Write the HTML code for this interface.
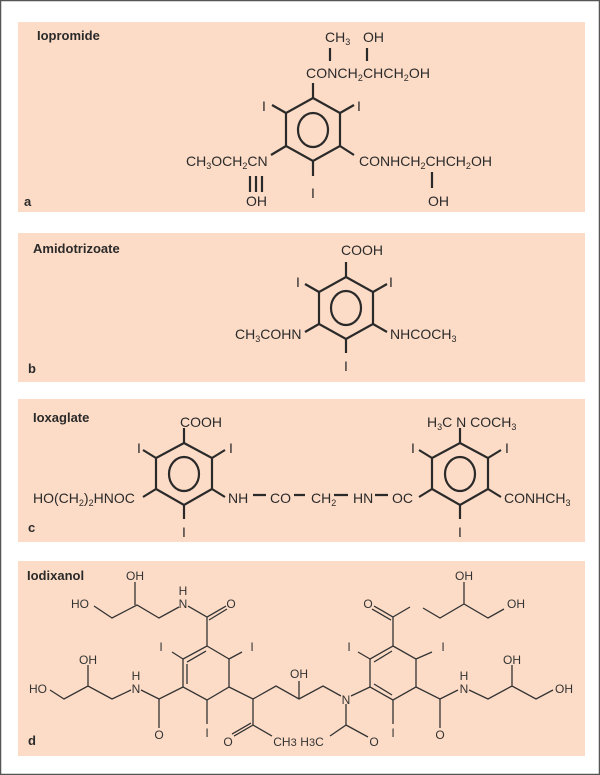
<!DOCTYPE html>
<html><head><meta charset="utf-8"><style>
html,body{margin:0;padding:0;background:#fff}
svg{display:block}
.t{font-family:"Liberation Sans",sans-serif;font-size:14px;fill:#2a2a2a}
.s{font-size:9px}
.b{font-family:"Liberation Sans",sans-serif;font-size:13px;font-weight:bold;fill:#2a2a2a}
.d{font-family:"Liberation Sans",sans-serif;font-size:12px;fill:#333}
.k{stroke:#2a2a2a;stroke-width:2.2;fill:none}
.n{stroke:#333;stroke-width:1.3;fill:none}
</style></head><body>
<svg width="600" height="775" viewBox="0 0 600 775" xmlns="http://www.w3.org/2000/svg">
<rect x="0.5" y="0.5" width="599" height="774" fill="#fff" stroke="#555" stroke-width="1.5"/>
<rect x="18" y="22" width="567" height="190" fill="#fddcc7"/>
<rect x="18" y="233" width="567" height="149" fill="#fddcc7"/>
<rect x="18" y="399" width="567" height="143" fill="#fddcc7"/>
<rect x="18" y="561" width="567" height="195" fill="#fddcc7"/>

<!-- a -->
<text class="b" x="37" y="40">Iopromide</text>
<text class="b" x="24" y="206">a</text>
<polygon class="k" points="313,98 340,113 340,146 313,161 286,146 286,113"/>
<ellipse class="k" cx="313" cy="130" rx="15" ry="17"/>
<path class="k" d="M313,98V83 M286,113L272,105 M340,113L354,105 M286,146L271,155 M340,146L354,155 M313,161V176 M330,48V61 M367,48V61 M250,176V192 M256,176V192 M262,176V192 M432,172V188"/>
<text class="t" x="325" y="42">CH<tspan class="s" dy="3">3</tspan></text>
<text class="t" x="363" y="42">OH</text>
<text class="t" x="306" y="78" textLength="124">CON<tspan>CH</tspan><tspan class="s" dy="3">2</tspan><tspan dy="-3">CHCH</tspan><tspan class="s" dy="3">2</tspan><tspan dy="-3">OH</tspan></text>
<text class="t" x="262" y="111">I</text>
<text class="t" x="357" y="111">I</text>
<text class="t" x="186" y="166">CH<tspan class="s" dy="3">3</tspan><tspan dy="-3">OCH</tspan><tspan class="s" dy="3">2</tspan><tspan dy="-3">CN</tspan></text>
<text class="t" x="359" y="166">CONHCH<tspan class="s" dy="3">2</tspan><tspan dy="-3">CHCH</tspan><tspan class="s" dy="3">2</tspan><tspan dy="-3">OH</tspan></text>
<text class="t" x="311" y="198">I</text>
<text class="t" x="246" y="206">OH</text>
<text class="t" x="428" y="206">OH</text>

<!-- b -->
<text class="b" x="33" y="253">Amidotrizoate</text>
<text class="b" x="28" y="373">b</text>
<polygon class="k" points="346,277 373,292 373,324 346,339 319,324 319,292"/>
<ellipse class="k" cx="346" cy="308" rx="15" ry="17"/>
<path class="k" d="M346,277V262 M319,292L305,284 M373,292L387,284 M319,324L305,332 M373,324L387,332 M346,339V353"/>
<text class="t" x="341" y="255">COOH</text>
<text class="t" x="296" y="287">I</text>
<text class="t" x="389" y="287">I</text>
<text class="t" x="235" y="339">CH<tspan class="s" dy="3">3</tspan><tspan dy="-3">COHN</tspan></text>
<text class="t" x="390" y="339">NHCOCH<tspan class="s" dy="3">3</tspan></text>
<text class="t" x="344" y="371">I</text>

<!-- c -->
<text class="b" x="33" y="422">Ioxaglate</text>
<text class="b" x="28" y="532">c</text>
<polygon class="k" points="184,443 212,458 212,489 184,505 156,489 156,458"/>
<ellipse class="k" cx="184" cy="474" rx="15" ry="17"/>
<polygon class="k" points="460,443 488,458 488,489 460,505 432,489 432,458"/>
<ellipse class="k" cx="460" cy="474" rx="15" ry="17"/>
<path class="k" d="M184,443V428 M156,458L143,450 M212,458L225,450 M156,489L143,497 M212,489L225,497 M184,505V519 M460,443V428 M432,458L419,450 M488,458L501,450 M432,489L419,497 M488,489L501,497 M460,505V519 M253,495H266 M294,495H305 M334,495H348 M375,495H388"/>
<text class="t" x="180" y="427">COOH</text>
<text class="t" x="137" y="453">I</text>
<text class="t" x="229" y="453">I</text>
<text class="t" x="33" y="503">HO(CH<tspan class="s" dy="3">2</tspan><tspan dy="-3">)</tspan><tspan class="s" dy="3">2</tspan><tspan dy="-3">HNOC</tspan></text>
<text class="t" x="228" y="503">NH</text>
<text class="t" x="270" y="503">CO</text>
<text class="t" x="311" y="503">CH<tspan class="s" dy="3">2</tspan></text>
<text class="t" x="353" y="503">HN</text>
<text class="t" x="392" y="503">OC</text>
<text class="t" x="427" y="427">H<tspan class="s" dy="3">3</tspan><tspan dy="-3">C N COCH</tspan><tspan class="s" dy="3">3</tspan></text>
<text class="t" x="411" y="453">I</text>
<text class="t" x="505" y="453">I</text>
<text class="t" x="504" y="503">CONHCH<tspan class="s" dy="3">3</tspan></text>
<text class="t" x="182" y="537">I</text>
<text class="t" x="458" y="537">I</text>

<!-- d -->
<text class="b" x="27" y="580">Iodixanol</text>
<text class="b" x="28" y="745">d</text>
<g class="n">
<polygon points="207,646 229,659 229,687 207,700 183,687 183,659"/>
<path d="M187,662L206,651 M187,664V684"/>
<path d="M207,646V617 M207,617L226,606 M209,620L227,609 M207,617L188,606 M179,607L159,618L137,605L112,618L94,606 M135,605V582"/>
<path d="M183,659L172,652 M229,659L242,652 M207,700V724"/>
<path d="M183,687L159,699V728 M159,699L141,690 M131,690L112,699L88,686L64,699L50,690 M88,686V665"/>
<path d="M229,687L253,699L276,686L299,699L323,686L341,696 M299,699V681 M253,699V725L234,736 M251,723L232,734 M253,725L272,736 M346,704V725L330,736 M346,725L368,737 M351,696L370,687"/>
<polygon points="393,646 416,659 416,687 393,700 370,687 370,659"/>
<path d="M374,662L392,651 M374,684L392,695"/>
<path d="M393,646V617L410,607 M393,617L374,606 M391,620L372,609 M370,659L358,652 M416,659L432,652 M393,700V724"/>
<path d="M416,687L440,699V728 M440,699L458,690 M469,690L488,699L512,686L536,699L553,690 M512,686V665"/>
<path d="M423,608L440,618L464,604L488,618L504,609 M464,604V582"/>
</g>
<g class="d" text-anchor="middle">
<text x="135" y="580">OH</text>
<text x="80" y="608">HO</text>
<text x="183" y="595">H</text>
<text x="183" y="608">N</text>
<text x="231" y="608">O</text>
<text x="161" y="651">I</text>
<text x="252" y="651">I</text>
<text x="88" y="664">OH</text>
<text x="38" y="693">HO</text>
<text x="136" y="680">H</text>
<text x="136" y="693">N</text>
<text x="159" y="739">O</text>
<text x="207" y="737">I</text>
<text x="299" y="678">OH</text>
<text x="228" y="746">O</text>
<text x="285" y="746">CH<tspan font-size="11">3</tspan></text>
<text x="312" y="746">H<tspan font-size="11">3</tspan>C</text>
<text x="346" y="704">N</text>
<text x="374" y="746">O</text>
<text x="368" y="608">O</text>
<text x="349" y="651">I</text>
<text x="443" y="651">I</text>
<text x="393" y="737">I</text>
<text x="440" y="739">O</text>
<text x="464" y="680">H</text>
<text x="464" y="693">N</text>
<text x="512" y="664">OH</text>
<text x="564" y="693">OH</text>
<text x="464" y="580">OH</text>
<text x="516" y="608">OH</text>
</g>
</svg>
</body></html>
